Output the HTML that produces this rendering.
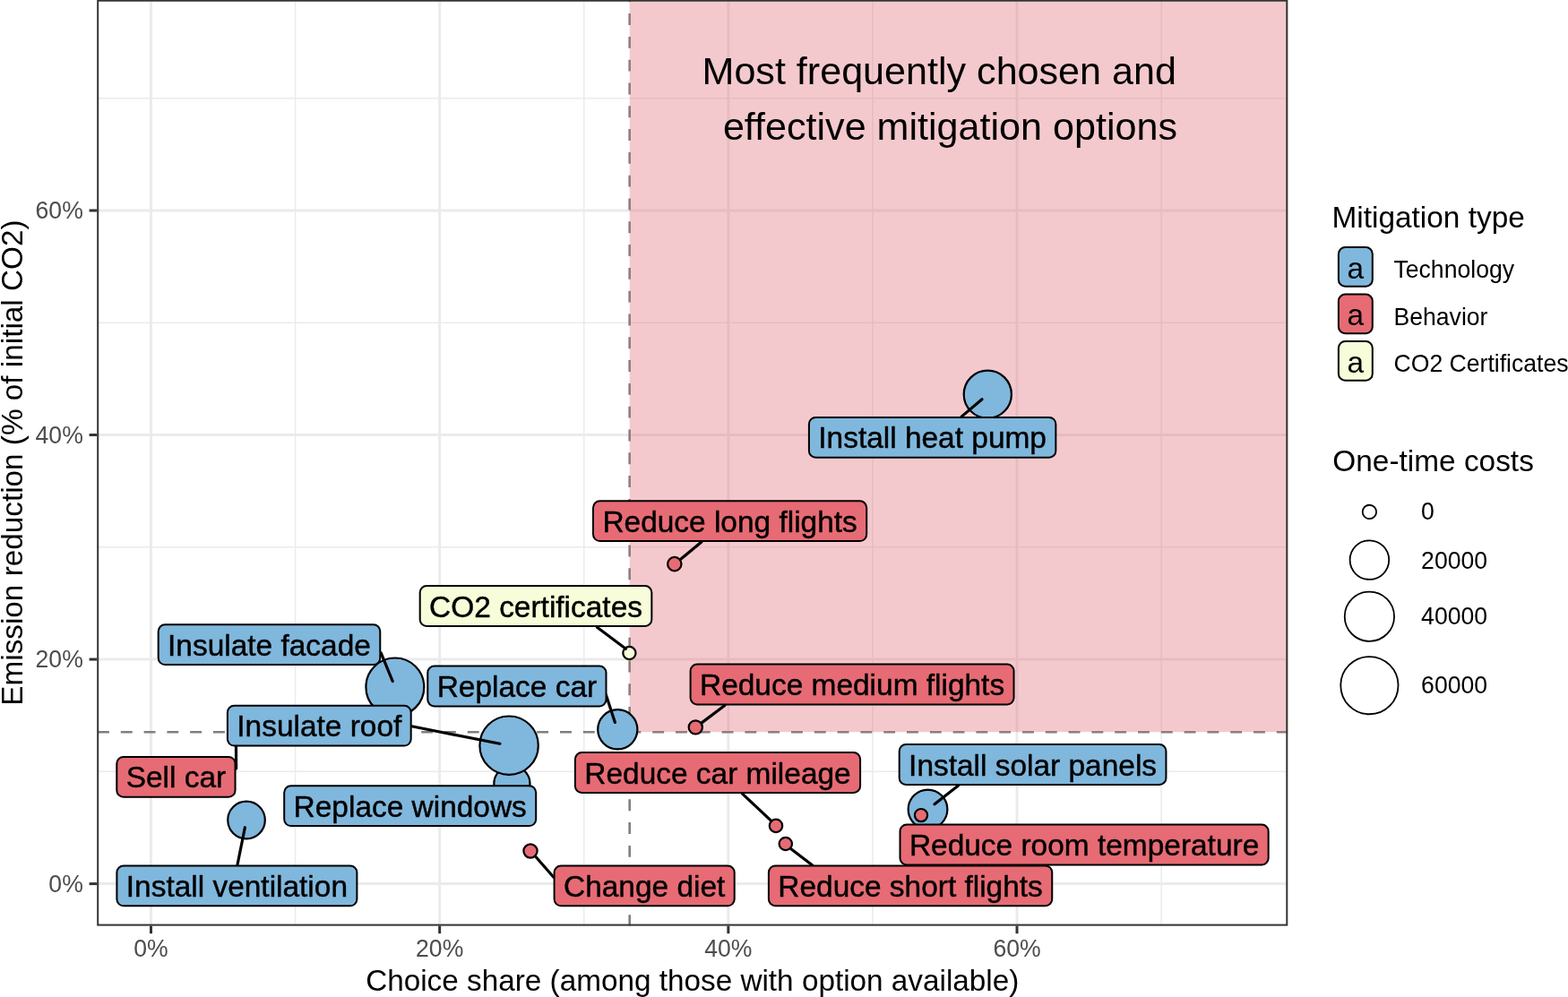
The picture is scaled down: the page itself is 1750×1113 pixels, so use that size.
<!DOCTYPE html>
<html><head><meta charset="utf-8"><title>Mitigation options</title>
<style>
html,body{margin:0;padding:0;background:#fff;width:1750px;height:1113px;overflow:hidden;}
svg{display:block;}
text{font-family:"Liberation Sans", Arial, Helvetica, sans-serif;}
.b{stroke:#000;stroke-width:0.45px;}
</style></head><body>
<svg width="1750" height="1113" viewBox="0 0 1750 1113">
<rect x="0" y="0" width="1750" height="1113" fill="#FFFFFF"/>
<defs><clipPath id="pc"><rect x="108.2" y="-0.3" width="1329.1" height="1033.8999999999999"/></clipPath></defs>
<g clip-path="url(#pc)">
<line x1="329.58" y1="-0.3" x2="329.58" y2="1033.6" stroke="#EBEBEB" stroke-width="1.5"/>
<line x1="651.75" y1="-0.3" x2="651.75" y2="1033.6" stroke="#EBEBEB" stroke-width="1.5"/>
<line x1="973.92" y1="-0.3" x2="973.92" y2="1033.6" stroke="#EBEBEB" stroke-width="1.5"/>
<line x1="1296.10" y1="-0.3" x2="1296.10" y2="1033.6" stroke="#EBEBEB" stroke-width="1.5"/>
<line x1="108.2" y1="861.33" x2="1437.3" y2="861.33" stroke="#EBEBEB" stroke-width="1.5"/>
<line x1="108.2" y1="610.80" x2="1437.3" y2="610.80" stroke="#EBEBEB" stroke-width="1.5"/>
<line x1="108.2" y1="360.26" x2="1437.3" y2="360.26" stroke="#EBEBEB" stroke-width="1.5"/>
<line x1="108.2" y1="109.73" x2="1437.3" y2="109.73" stroke="#EBEBEB" stroke-width="1.5"/>
<line x1="168.50" y1="-0.3" x2="168.50" y2="1033.6" stroke="#EBEBEB" stroke-width="3"/>
<line x1="490.67" y1="-0.3" x2="490.67" y2="1033.6" stroke="#EBEBEB" stroke-width="3"/>
<line x1="812.84" y1="-0.3" x2="812.84" y2="1033.6" stroke="#EBEBEB" stroke-width="3"/>
<line x1="1135.01" y1="-0.3" x2="1135.01" y2="1033.6" stroke="#EBEBEB" stroke-width="3"/>
<line x1="108.2" y1="986.60" x2="1437.3" y2="986.60" stroke="#EBEBEB" stroke-width="3"/>
<line x1="108.2" y1="736.07" x2="1437.3" y2="736.07" stroke="#EBEBEB" stroke-width="3"/>
<line x1="108.2" y1="485.53" x2="1437.3" y2="485.53" stroke="#EBEBEB" stroke-width="3"/>
<line x1="108.2" y1="235.00" x2="1437.3" y2="235.00" stroke="#EBEBEB" stroke-width="3"/>
<line x1="109.0" y1="817.2" x2="1437.3" y2="817.2" stroke="#7F7F7F" stroke-width="2.6" stroke-dasharray="12.9 12.9"/>
<line x1="702.7" y1="1034.2" x2="702.7" y2="-0.3" stroke="#7F7F7F" stroke-width="2.6" stroke-dasharray="12.9 12.9"/>
<rect x="702.7" y="-5.3" width="739.5999999999999" height="822.5" fill="#E0707C" fill-opacity="0.38"/>
</g>
<text transform="translate(783.50,94.30) scale(1,1.0)" font-size="43.1" text-anchor="start" fill="#000">Most frequently chosen and</text>
<text transform="translate(806.90,155.80) scale(1,1.0)" font-size="43.1" text-anchor="start" fill="#000">effective mitigation options</text>
<circle cx="571.4" cy="875.0" r="20.10" fill="#80B7DD" stroke="#000" stroke-width="2.2"/>
<circle cx="568.1" cy="832.2" r="32.70" fill="#80B7DD" stroke="#000" stroke-width="2.2"/>
<circle cx="440.85" cy="766.95" r="32.45" fill="#80B7DD" stroke="#000" stroke-width="2.2"/>
<circle cx="1102.3" cy="440.2" r="26.60" fill="#80B7DD" stroke="#000" stroke-width="2.2"/>
<circle cx="689.3" cy="814.3" r="22.10" fill="#80B7DD" stroke="#000" stroke-width="2.2"/>
<circle cx="275.0" cy="915.5" r="20.80" fill="#80B7DD" stroke="#000" stroke-width="2.2"/>
<circle cx="1035.5" cy="903.5" r="21.85" fill="#80B7DD" stroke="#000" stroke-width="2.2"/>
<circle cx="264.0" cy="815.0" r="7.50" fill="#E76B74" stroke="#000" stroke-width="2.2"/>
<circle cx="752.8" cy="629.6" r="7.70" fill="#E76B74" stroke="#000" stroke-width="2.2"/>
<circle cx="776.3" cy="811.9" r="7.60" fill="#E76B74" stroke="#000" stroke-width="2.2"/>
<circle cx="866.0" cy="921.9" r="7.20" fill="#E76B74" stroke="#000" stroke-width="2.2"/>
<circle cx="876.8" cy="942.0" r="7.20" fill="#E76B74" stroke="#000" stroke-width="2.2"/>
<circle cx="592.0" cy="950.0" r="7.60" fill="#E76B74" stroke="#000" stroke-width="2.2"/>
<circle cx="1028.0" cy="910.1" r="7.10" fill="#E76B74" stroke="#000" stroke-width="2.2"/>
<circle cx="702.4" cy="729.0" r="7.10" fill="#F7FCD9" stroke="#000" stroke-width="2.2"/>
<line x1="1096" y1="445.7" x2="1073.1" y2="465.1" stroke="#000" stroke-width="3.2" stroke-linecap="round"/>
<line x1="759.4" y1="624.5" x2="782.9" y2="605" stroke="#000" stroke-width="3.2" stroke-linecap="round"/>
<line x1="698.4" y1="724.2" x2="666.4" y2="700.2" stroke="#000" stroke-width="3.2" stroke-linecap="round"/>
<line x1="438.2" y1="760.5" x2="425.2" y2="728.8" stroke="#000" stroke-width="3.2" stroke-linecap="round"/>
<line x1="686.4" y1="806.4" x2="676.4" y2="775.7" stroke="#000" stroke-width="3.2" stroke-linecap="round"/>
<line x1="557.9" y1="830.2" x2="459.4" y2="810.8" stroke="#000" stroke-width="3.2" stroke-linecap="round"/>
<line x1="263.4" y1="820" x2="263.6" y2="858" stroke="#000" stroke-width="3.2" stroke-linecap="round"/>
<line x1="273.4" y1="923.7" x2="264.9" y2="965.7" stroke="#000" stroke-width="3.2" stroke-linecap="round"/>
<line x1="598.2" y1="956.7" x2="618.3" y2="979.8" stroke="#000" stroke-width="3.2" stroke-linecap="round"/>
<line x1="860.5" y1="916.1" x2="828.3" y2="885.9" stroke="#000" stroke-width="3.2" stroke-linecap="round"/>
<line x1="882.9" y1="947.7" x2="906.8" y2="965.9" stroke="#000" stroke-width="3.2" stroke-linecap="round"/>
<line x1="1043" y1="897.7" x2="1069.5" y2="877" stroke="#000" stroke-width="3.2" stroke-linecap="round"/>
<line x1="782.8" y1="807.1" x2="808.9" y2="787.5" stroke="#000" stroke-width="3.2" stroke-linecap="round"/>
<rect x="902.90" y="465.90" width="275.45" height="44.80" rx="7.5" ry="7.5" fill="#80B7DD" stroke="#000" stroke-width="2.0"/>
<text transform="translate(1040.62,500.30) scale(1,1.0)" font-size="33.45" text-anchor="middle" fill="#000" class="b">Install heat pump</text>
<rect x="662.00" y="559.30" width="305.20" height="44.80" rx="7.5" ry="7.5" fill="#E76B74" stroke="#000" stroke-width="2.0"/>
<text transform="translate(814.60,593.70) scale(1,1.0)" font-size="33.45" text-anchor="middle" fill="#000" class="b">Reduce long flights</text>
<rect x="468.70" y="654.10" width="258.64" height="44.80" rx="7.5" ry="7.5" fill="#F7FCD9" stroke="#000" stroke-width="2.0"/>
<text transform="translate(598.02,688.50) scale(1,1.0)" font-size="33.45" text-anchor="middle" fill="#000" class="b">CO2 certificates</text>
<rect x="176.70" y="697.30" width="247.58" height="44.80" rx="7.5" ry="7.5" fill="#80B7DD" stroke="#000" stroke-width="2.0"/>
<text transform="translate(300.49,731.70) scale(1,1.0)" font-size="33.45" text-anchor="middle" fill="#000" class="b">Insulate facade</text>
<rect x="477.30" y="743.60" width="199.19" height="44.80" rx="7.5" ry="7.5" fill="#80B7DD" stroke="#000" stroke-width="2.0"/>
<text transform="translate(576.89,778.00) scale(1,1.0)" font-size="33.45" text-anchor="middle" fill="#000" class="b">Replace car</text>
<rect x="253.90" y="787.80" width="204.79" height="44.80" rx="7.5" ry="7.5" fill="#80B7DD" stroke="#000" stroke-width="2.0"/>
<text transform="translate(356.29,822.20) scale(1,1.0)" font-size="33.45" text-anchor="middle" fill="#000" class="b">Insulate roof</text>
<rect x="130.30" y="844.90" width="132.24" height="44.80" rx="7.5" ry="7.5" fill="#E76B74" stroke="#000" stroke-width="2.0"/>
<text transform="translate(196.42,879.30) scale(1,1.0)" font-size="33.45" text-anchor="middle" fill="#000" class="b">Sell car</text>
<rect x="317.20" y="877.30" width="281.00" height="44.80" rx="7.5" ry="7.5" fill="#80B7DD" stroke="#000" stroke-width="2.0"/>
<text transform="translate(457.70,911.70) scale(1,1.0)" font-size="33.45" text-anchor="middle" fill="#000" class="b">Replace windows</text>
<rect x="130.40" y="966.50" width="268.00" height="44.80" rx="7.5" ry="7.5" fill="#80B7DD" stroke="#000" stroke-width="2.0"/>
<text transform="translate(264.40,1000.90) scale(1,1.0)" font-size="33.45" text-anchor="middle" fill="#000" class="b">Install ventilation</text>
<rect x="618.60" y="966.50" width="201.10" height="44.80" rx="7.5" ry="7.5" fill="#E76B74" stroke="#000" stroke-width="2.0"/>
<text transform="translate(719.15,1000.90) scale(1,1.0)" font-size="33.45" text-anchor="middle" fill="#000" class="b">Change diet</text>
<rect x="641.90" y="840.10" width="318.19" height="44.80" rx="7.5" ry="7.5" fill="#E76B74" stroke="#000" stroke-width="2.0"/>
<text transform="translate(800.99,874.50) scale(1,1.0)" font-size="33.45" text-anchor="middle" fill="#000" class="b">Reduce car mileage</text>
<rect x="1003.70" y="831.10" width="297.74" height="44.80" rx="7.5" ry="7.5" fill="#80B7DD" stroke="#000" stroke-width="2.0"/>
<text transform="translate(1152.57,865.50) scale(1,1.0)" font-size="33.45" text-anchor="middle" fill="#000" class="b">Install solar panels</text>
<rect x="770.60" y="741.60" width="360.93" height="44.80" rx="7.5" ry="7.5" fill="#E76B74" stroke="#000" stroke-width="2.0"/>
<text transform="translate(951.07,776.00) scale(1,1.0)" font-size="33.45" text-anchor="middle" fill="#000" class="b">Reduce medium flights</text>
<rect x="1004.50" y="920.60" width="411.14" height="44.80" rx="7.5" ry="7.5" fill="#E76B74" stroke="#000" stroke-width="2.0"/>
<text transform="translate(1210.07,955.00) scale(1,1.0)" font-size="33.45" text-anchor="middle" fill="#000" class="b">Reduce room temperature</text>
<rect x="857.90" y="966.40" width="316.33" height="44.80" rx="7.5" ry="7.5" fill="#E76B74" stroke="#000" stroke-width="2.0"/>
<text transform="translate(1016.06,1000.80) scale(1,1.0)" font-size="33.45" text-anchor="middle" fill="#000" class="b">Reduce short flights</text>
<rect x="109.2" y="0.7" width="1327.1" height="1031.8999999999999" fill="none" stroke="#333333" stroke-width="2.0"/>
<line x1="168.50" y1="1033.6" x2="168.50" y2="1042.1999999999998" stroke="#333333" stroke-width="3"/>
<text transform="translate(168.50,1067.80) scale(1,1.05)" font-size="26.6" text-anchor="middle" fill="#4D4D4D">0%</text>
<line x1="490.67" y1="1033.6" x2="490.67" y2="1042.1999999999998" stroke="#333333" stroke-width="3"/>
<text transform="translate(490.67,1067.80) scale(1,1.05)" font-size="26.6" text-anchor="middle" fill="#4D4D4D">20%</text>
<line x1="812.84" y1="1033.6" x2="812.84" y2="1042.1999999999998" stroke="#333333" stroke-width="3"/>
<text transform="translate(812.84,1067.80) scale(1,1.05)" font-size="26.6" text-anchor="middle" fill="#4D4D4D">40%</text>
<line x1="1135.01" y1="1033.6" x2="1135.01" y2="1042.1999999999998" stroke="#333333" stroke-width="3"/>
<text transform="translate(1135.01,1067.80) scale(1,1.05)" font-size="26.6" text-anchor="middle" fill="#4D4D4D">60%</text>
<line x1="99.60000000000001" y1="986.60" x2="108.2" y2="986.60" stroke="#333333" stroke-width="3"/>
<text transform="translate(92.80,995.60) scale(1,1.05)" font-size="26.6" text-anchor="end" fill="#4D4D4D">0%</text>
<line x1="99.60000000000001" y1="736.07" x2="108.2" y2="736.07" stroke="#333333" stroke-width="3"/>
<text transform="translate(92.80,745.07) scale(1,1.05)" font-size="26.6" text-anchor="end" fill="#4D4D4D">20%</text>
<line x1="99.60000000000001" y1="485.53" x2="108.2" y2="485.53" stroke="#333333" stroke-width="3"/>
<text transform="translate(92.80,494.53) scale(1,1.05)" font-size="26.6" text-anchor="end" fill="#4D4D4D">40%</text>
<line x1="99.60000000000001" y1="235.00" x2="108.2" y2="235.00" stroke="#333333" stroke-width="3"/>
<text transform="translate(92.80,244.00) scale(1,1.05)" font-size="26.6" text-anchor="end" fill="#4D4D4D">60%</text>
<text transform="translate(772.75,1105.60) scale(1,1.0)" font-size="33.3" text-anchor="middle" fill="#000">Choice share (among those with option available)</text>
<text transform="translate(24.70,516.60) rotate(-90) scale(1,1.0)" font-size="33.3" text-anchor="middle" fill="#000">Emission reduction (% of initial CO2)</text>
<text transform="translate(1486.50,254.00) scale(1,1.0)" font-size="33.4" text-anchor="start" fill="#000">Mitigation type</text>
<rect x="1493.9" y="276.10" width="37.9" height="43.6" rx="7.5" ry="7.5" fill="#80B7DD" stroke="#000" stroke-width="2"/>
<text transform="translate(1512.85,310.50) scale(1,1.0)" font-size="33.45" text-anchor="middle" fill="#000">a</text>
<text transform="translate(1555.50,310.40) scale(1,1.04)" font-size="26.6" text-anchor="start" fill="#000">Technology</text>
<rect x="1493.9" y="328.60" width="37.9" height="43.6" rx="7.5" ry="7.5" fill="#E76B74" stroke="#000" stroke-width="2"/>
<text transform="translate(1512.85,363.00) scale(1,1.0)" font-size="33.45" text-anchor="middle" fill="#000">a</text>
<text transform="translate(1555.50,362.50) scale(1,1.04)" font-size="26.6" text-anchor="start" fill="#000">Behavior</text>
<rect x="1493.9" y="381.10" width="37.9" height="43.6" rx="7.5" ry="7.5" fill="#F7FCD9" stroke="#000" stroke-width="2"/>
<text transform="translate(1512.85,415.50) scale(1,1.0)" font-size="33.45" text-anchor="middle" fill="#000">a</text>
<text transform="translate(1555.50,414.60) scale(1,1.04)" font-size="26.6" text-anchor="start" fill="#000">CO2 Certificates</text>
<text transform="translate(1487.30,525.80) scale(1,1.0)" font-size="33.4" text-anchor="start" fill="#000">One-time costs</text>
<circle cx="1528.4" cy="571.45" r="7.70" fill="none" stroke="#000" stroke-width="1.8"/>
<text transform="translate(1586.10,580.20) scale(1,1.05)" font-size="26.6" text-anchor="start" fill="#000">0</text>
<circle cx="1528.4" cy="625.1" r="21.80" fill="none" stroke="#000" stroke-width="1.8"/>
<text transform="translate(1586.10,634.90) scale(1,1.05)" font-size="26.6" text-anchor="start" fill="#000">20000</text>
<circle cx="1528.4" cy="688.2" r="27.65" fill="none" stroke="#000" stroke-width="1.8"/>
<text transform="translate(1586.10,697.40) scale(1,1.05)" font-size="26.6" text-anchor="start" fill="#000">40000</text>
<circle cx="1528.4" cy="765.15" r="32.10" fill="none" stroke="#000" stroke-width="1.8"/>
<text transform="translate(1586.10,774.40) scale(1,1.05)" font-size="26.6" text-anchor="start" fill="#000">60000</text>
</svg>
</body></html>
